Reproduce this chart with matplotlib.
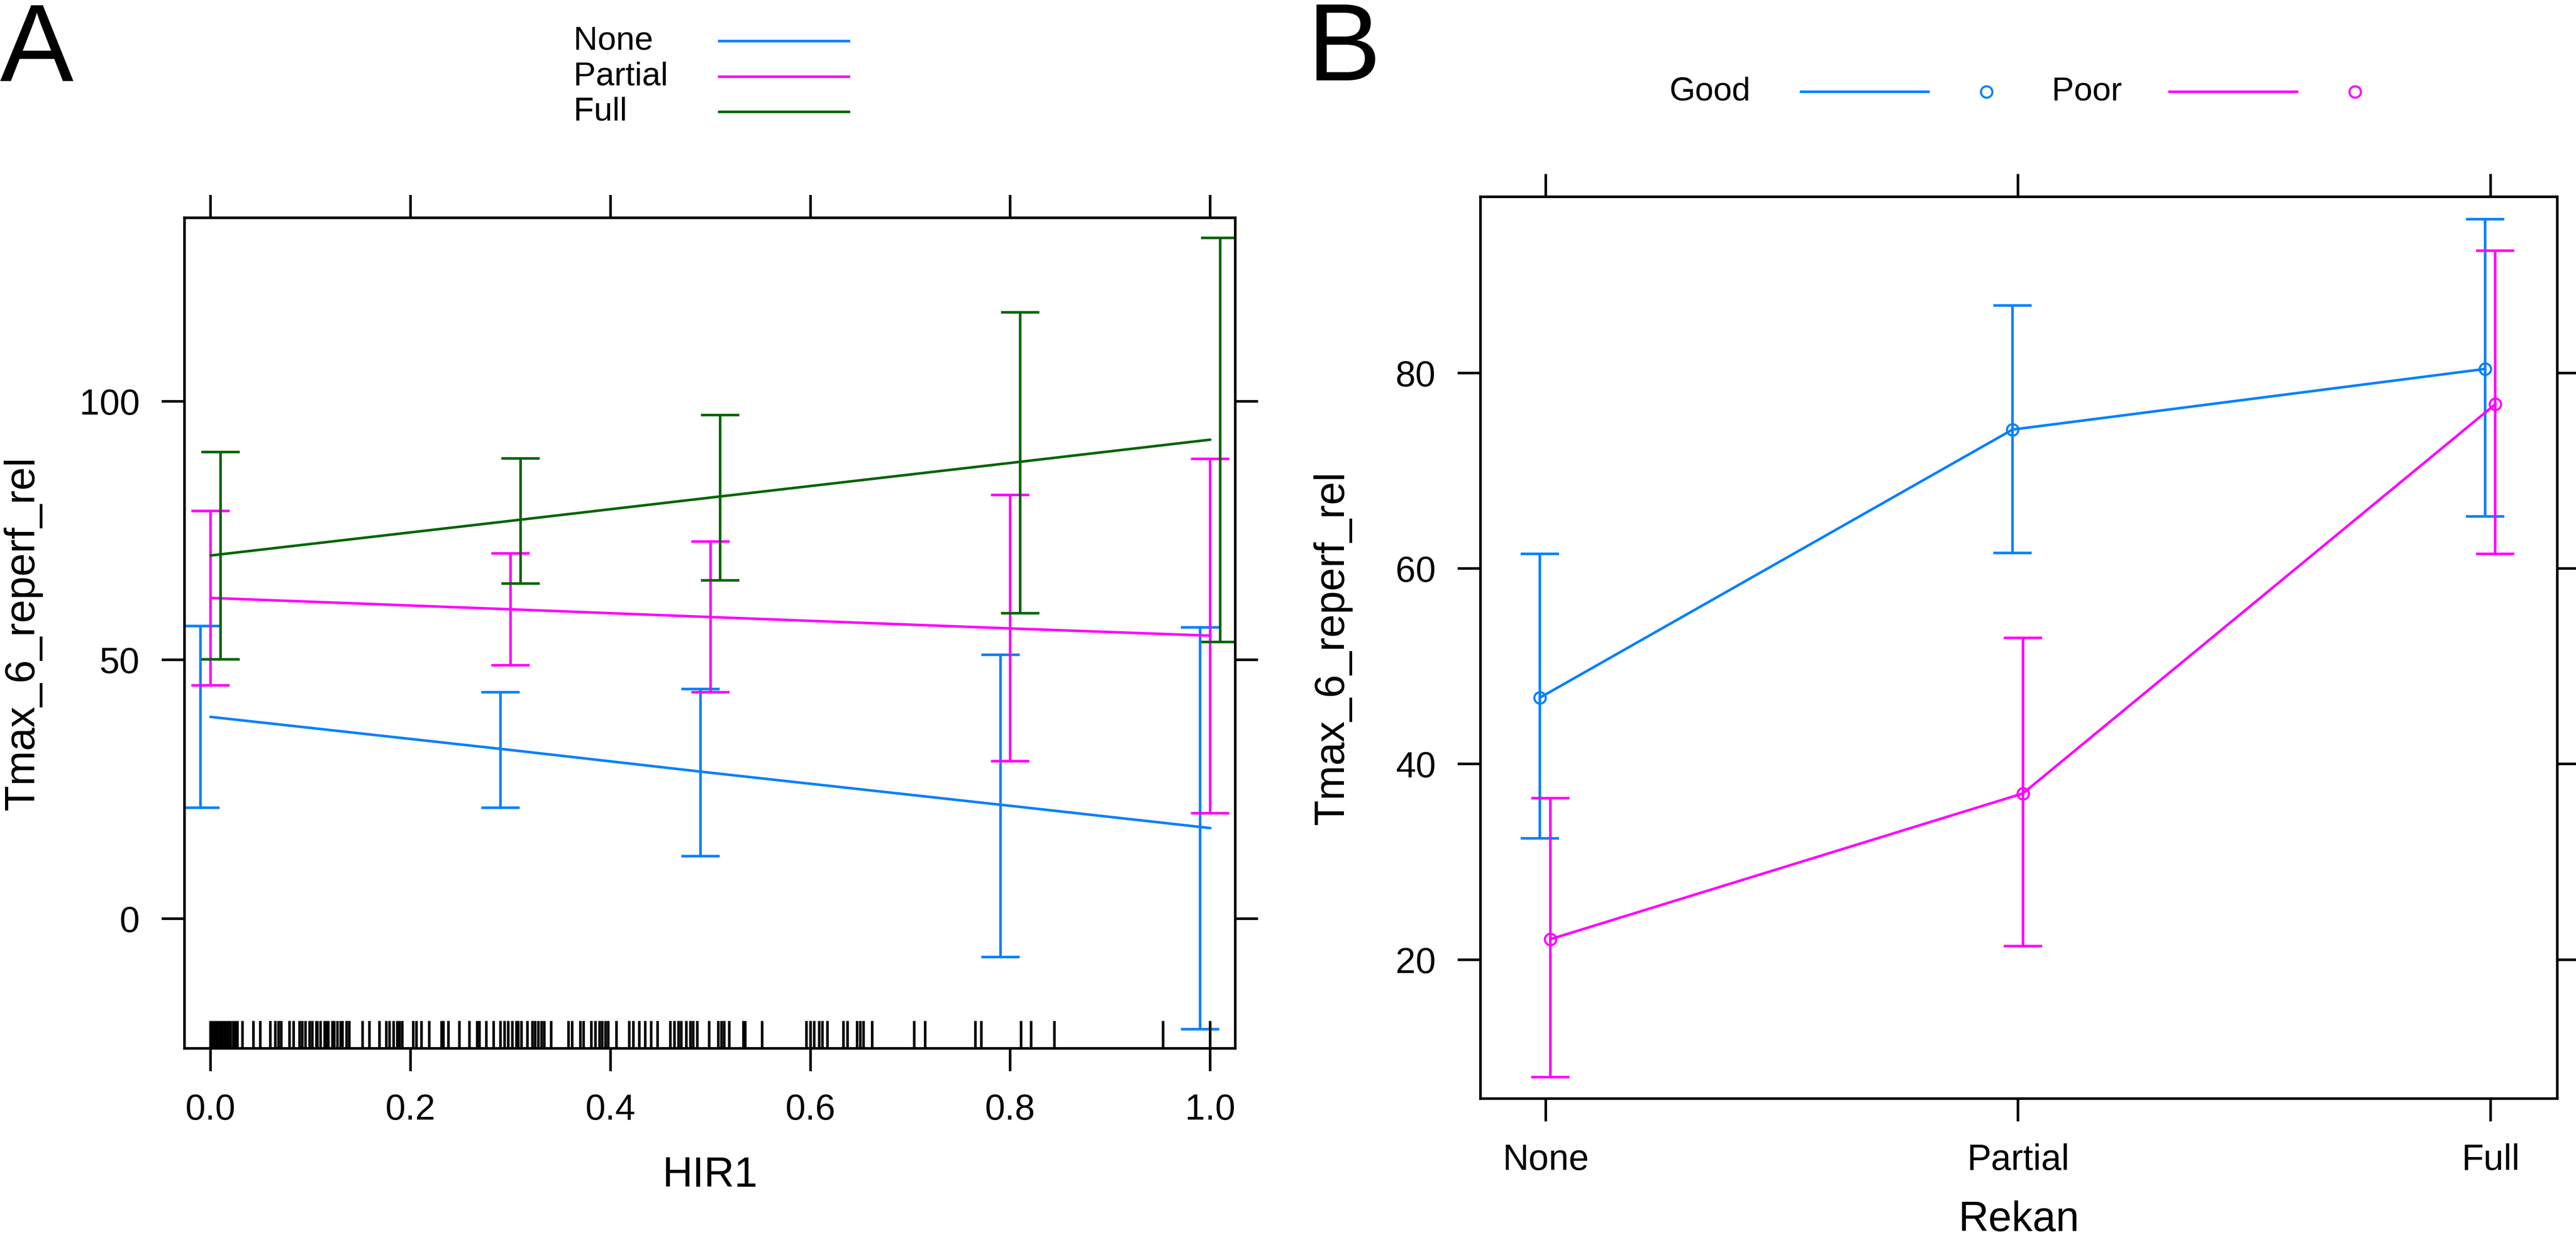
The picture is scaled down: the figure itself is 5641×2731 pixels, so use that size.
import matplotlib.pyplot as plt
from matplotlib.lines import Line2D

plt.rcParams['font.family'] = ['Liberation Sans', 'DejaVu Sans']

# Panel A: HIR1 effect for each Rekan level
hir1_levels = [0.0, 0.3, 0.5, 0.8, 1.0]
rekan_groups = ['None', 'Partial', 'Full']
fit_none = [39.0, 32.6, 28.2, 21.8, 17.5]
lower_none = [21.4, 21.4, 12.1, -7.4, -21.4]
upper_none = [56.6, 43.8, 44.4, 51.0, 56.3]
fit_partial = [62.0, 59.8, 58.3, 56.1, 54.7]
lower_partial = [45.1, 49.0, 43.8, 30.4, 20.4]
upper_partial = [78.8, 70.6, 72.9, 81.9, 88.9]
fit_full = [70.2, 76.9, 81.4, 88.1, 92.6]
lower_full = [50.1, 64.8, 65.4, 59.0, 53.5]
upper_full = [90.2, 89.0, 97.4, 117.2, 131.6]

# observed HIR1 values (rug)
hir1_obs = [0.0, 0.002, 0.004, 0.006, 0.008, 0.010, 0.012, 0.014, 0.016, 0.018,
            0.020, 0.023, 0.025, 0.027, 0.032, 0.043, 0.050, 0.060, 0.065, 0.068,
            0.071, 0.079, 0.083, 0.089, 0.092, 0.095, 0.099, 0.102, 0.106, 0.107,
            0.110, 0.114, 0.115, 0.117, 0.118, 0.122, 0.124, 0.127, 0.130, 0.132,
            0.136, 0.139, 0.152, 0.159, 0.169, 0.176, 0.179, 0.183, 0.187, 0.189,
            0.192, 0.203, 0.206, 0.211, 0.219, 0.231, 0.233, 0.238, 0.249, 0.259,
            0.267, 0.269, 0.276, 0.283, 0.290, 0.294, 0.298, 0.302, 0.306, 0.308,
            0.311, 0.317, 0.322, 0.325, 0.328, 0.331, 0.334, 0.341, 0.358, 0.362,
            0.370, 0.373, 0.381, 0.385, 0.389, 0.392, 0.395, 0.398, 0.406, 0.419,
            0.423, 0.429, 0.435, 0.441, 0.447, 0.460, 0.464, 0.468, 0.471, 0.476,
            0.480, 0.483, 0.487, 0.499, 0.508, 0.511, 0.514, 0.519, 0.533, 0.535,
            0.552, 0.596, 0.600, 0.604, 0.609, 0.612, 0.617, 0.633, 0.637, 0.647,
            0.650, 0.653, 0.662, 0.704, 0.715, 0.765, 0.771, 0.811, 0.821, 0.844,
            0.953, 1.0]

# Panel B: Rekan effect for each HIR group
rekan_levels = ['None', 'Partial', 'Full']
good_fit = [46.8, 74.2, 80.4]
good_lower = [32.4, 61.6, 65.3]
good_upper = [61.5, 86.9, 95.7]
poor_fit = [22.1, 37.0, 76.8]
poor_lower = [8.0, 21.4, 61.5]
poor_upper = [36.5, 52.9, 92.5]

blue = '#0080ff'
magenta = '#ff00ff'
green = '#006400'
lw = 1.35
tick_fs = 19
label_fs = 22
key_fs = 17.5

W, H = 5641, 2731
fig = plt.figure(figsize=(W / 300, H / 300), dpi=300)


def style_axes(ax):
    for s in ax.spines.values():
        s.set_linewidth(lw)
    ax.tick_params(direction='out', length=12, width=lw, pad=11.5,
                   labelsize=tick_fs, top=True, right=True,
                   labeltop=False, labelright=False)


# ---- Panel A ----
axA = fig.add_axes([404 / W, 1 - 2296 / H, (2705 - 404) / W, (2296 - 477) / H])
seriesA = [
    (fit_none, lower_none, upper_none, blue, -0.01),
    (fit_partial, lower_partial, upper_partial, magenta, 0.0),
    (fit_full, lower_full, upper_full, green, 0.01),
]
for fit, lo, hi, col, off in seriesA:
    axA.plot(hir1_levels, fit, color=col, lw=lw, solid_capstyle='round')
    xs = [x + off for x in hir1_levels]
    yerr = [[f - l for f, l in zip(fit, lo)], [h - f for f, h in zip(fit, hi)]]
    axA.errorbar(xs, fit, yerr=yerr, fmt='none', ecolor=col, elinewidth=lw,
                 capsize=10, capthick=lw)
axA.vlines(hir1_obs, 0, 0.033, transform=axA.get_xaxis_transform(),
           color='black', lw=lw)
axA.set_xlim(-0.026, 1.025)
axA.set_ylim(-25.1, 135.5)
axA.set_xticks([0.0, 0.2, 0.4, 0.6, 0.8, 1.0])
axA.set_xticklabels(['0.0', '0.2', '0.4', '0.6', '0.8', '1.0'])
axA.set_yticks([0, 50, 100])
style_axes(axA)
axA.set_xlabel('HIR1', fontsize=label_fs)
axA.set_ylabel('Tmax_6_reperf_rel', fontsize=label_fs)
axA.xaxis.set_label_coords(0.5, -0.13)
axA.yaxis.set_label_coords(-0.135, 0.5)

# ---- Panel B ----
axB = fig.add_axes([3242 / W, 1 - 2406 / H, (5600 - 3242) / W, (2406 - 431) / H])
xpos = list(range(len(rekan_levels)))
seriesB = [
    (good_fit, good_lower, good_upper, blue, -0.012),
    (poor_fit, poor_lower, poor_upper, magenta, 0.01),
]
for fit, lo, hi, col, off in seriesB:
    xs = [x + off for x in xpos]
    axB.plot(xs, fit, color=col, lw=lw, marker='o', markersize=6,
             markerfacecolor='none', markeredgecolor=col, markeredgewidth=1.1)
    yerr = [[f - l for f, l in zip(fit, lo)], [h - f for f, h in zip(fit, hi)]]
    axB.errorbar(xs, fit, yerr=yerr, fmt='none', ecolor=col, elinewidth=lw,
                 capsize=10, capthick=lw)
axB.set_xlim(-0.138, 2.141)
axB.set_ylim(5.8, 98.0)
axB.set_xticks(xpos)
axB.set_xticklabels(rekan_levels)
axB.set_yticks([20, 40, 60, 80])
style_axes(axB)
axB.set_xlabel('Rekan', fontsize=label_fs)
axB.set_ylabel('Tmax_6_reperf_rel', fontsize=label_fs)
axB.xaxis.set_label_coords(0.5, -0.113)
axB.yaxis.set_label_coords(-0.119, 0.5)

# ---- Keys ----
key_rows = [90, 168, 245]
for name, col, yrow in zip(rekan_groups, [blue, magenta, green], key_rows):
    fy = 1 - yrow / H
    fig.text(1256 / W, fy, name, fontsize=key_fs, ha='left', va='center')
    fig.add_artist(Line2D([1575 / W, 1859 / W], [fy, fy], color=col, lw=lw,
                          transform=fig.transFigure))

fyB = 1 - 201 / H
for name, col, xt, x0, x1, xc in [('Good', blue, 3655, 3944, 4223, 4350),
                                  ('Poor', magenta, 4493, 4751, 5030, 5157)]:
    fig.text(xt / W, fyB, name, fontsize=key_fs, ha='left', va='center')
    fig.add_artist(Line2D([x0 / W, x1 / W], [fyB, fyB], color=col, lw=lw,
                          transform=fig.transFigure))
    fig.add_artist(Line2D([xc / W], [fyB], color=col, marker='o', markersize=6,
                          markerfacecolor='none', markeredgewidth=1.1,
                          linestyle='none', transform=fig.transFigure))

# panel letters
fig.text(0.0, 1 - 179 / H, 'A', fontsize=58, ha='left', va='baseline')
fig.text(2862 / W, 1 - 176 / H, 'B', fontsize=58, ha='left', va='baseline')

fig.savefig('out.png', dpi=300)
